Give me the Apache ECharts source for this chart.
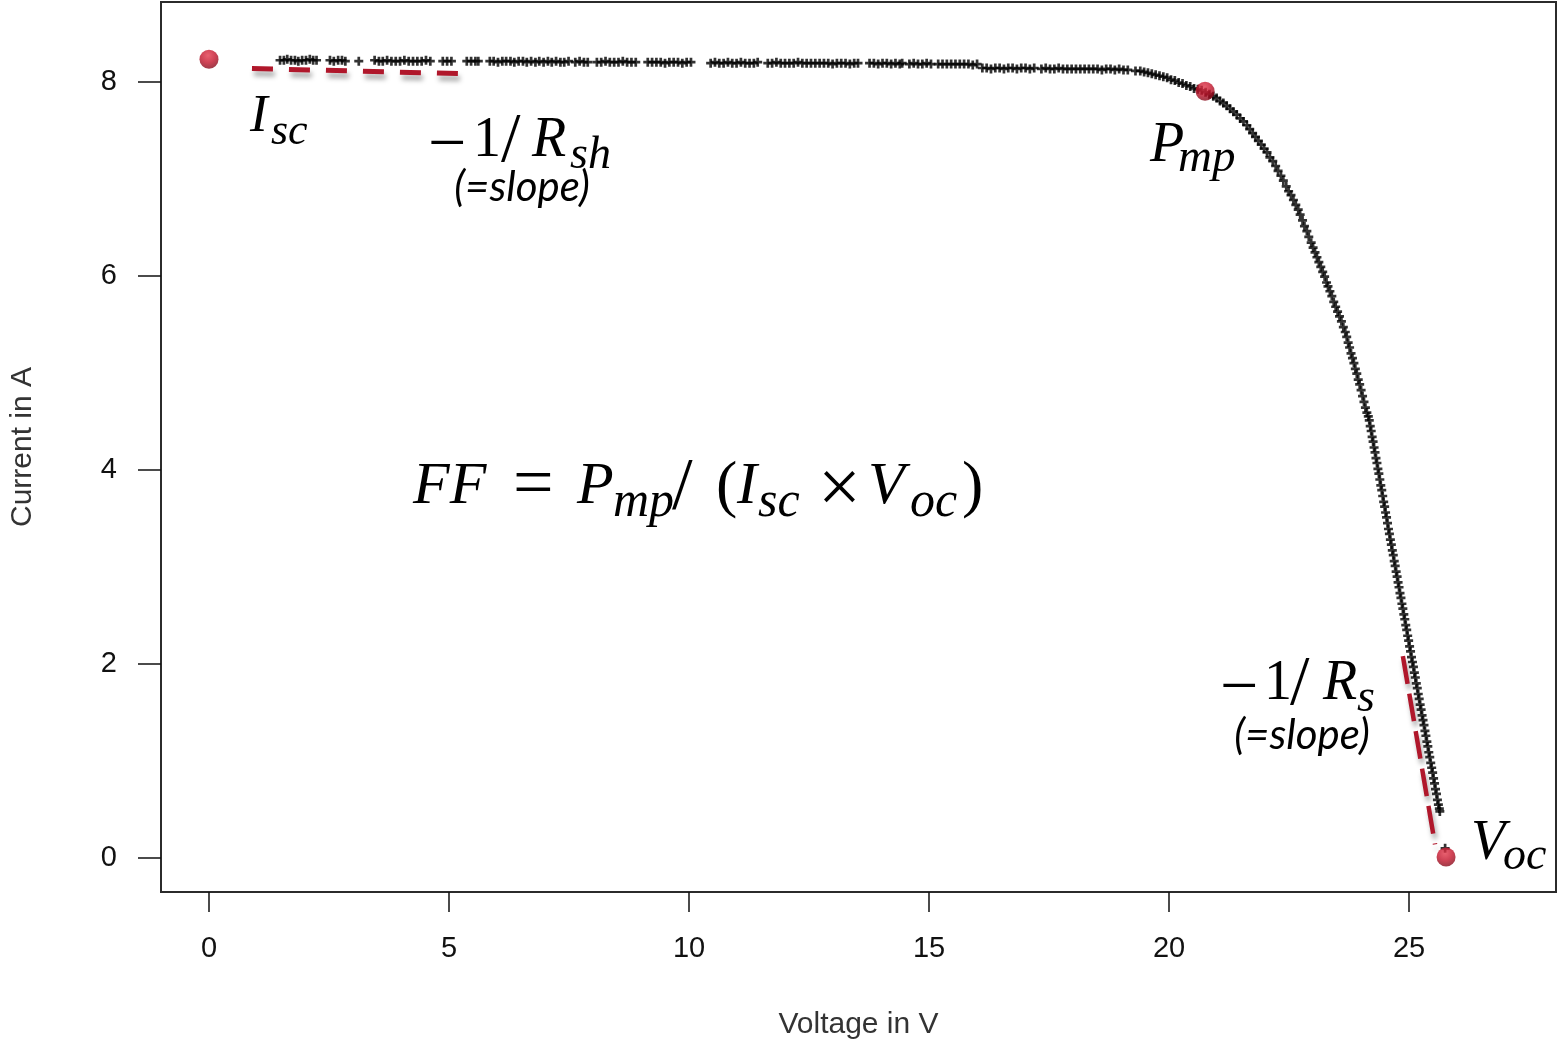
<!DOCTYPE html>
<html lang="en">
<head>
    <meta charset="UTF-8">
    <title>I-V curve</title>
    <script src="https://cdn.jsdelivr.net/npm/echarts@6/dist/echarts.min.js"></script>
    <style>
        html, body { margin: 0; padding: 0; background: #fff; overflow: hidden; }
        #ivChart { width: 1559px; height: 1041px; }
    </style>
</head>
<body>
<div id="ivChart"></div>
<script type="text/javascript">
    // measured points, flat part of the curve [voltage, current]
    var plateau = [
        [1.48,8.22],[1.56,8.22],[1.63,8.23],[1.71,8.22],[1.79,8.22],[1.86,8.21],[1.94,8.22],[2.02,8.22],[2.10,8.23],[2.17,8.22],[2.24,8.22],
        [2.52,8.22],[2.60,8.21],[2.69,8.22],[2.77,8.22],[2.84,8.21],
        [3.12,8.21],
        [3.45,8.22],[3.54,8.21],[3.62,8.21],[3.71,8.22],[3.80,8.21],[3.89,8.21],[3.98,8.21],[4.07,8.22],[4.16,8.21],[4.25,8.21],[4.34,8.21],[4.43,8.21],[4.52,8.22],[4.61,8.21],
        [4.87,8.21],[4.96,8.21],[5.05,8.21],
        [5.37,8.21],[5.46,8.21],[5.55,8.21],[5.61,8.21],
        [5.85,8.21],[5.93,8.21],[6.02,8.20],[6.11,8.21],[6.19,8.21],[6.28,8.21],[6.36,8.20],[6.45,8.21],[6.54,8.21],[6.62,8.20],[6.71,8.21],[6.80,8.20],[6.88,8.21],[6.97,8.20],[7.06,8.21],[7.14,8.20],[7.23,8.21],[7.32,8.20],[7.40,8.20],[7.49,8.21],
        [7.63,8.20],[7.72,8.21],[7.81,8.20],[7.89,8.20],
        [8.08,8.20],[8.17,8.20],[8.26,8.21],[8.35,8.20],[8.44,8.20],[8.53,8.20],[8.62,8.21],[8.71,8.20],[8.80,8.20],[8.89,8.20],
        [9.14,8.20],[9.23,8.20],[9.32,8.20],[9.41,8.20],[9.50,8.19],[9.59,8.20],[9.68,8.20],[9.77,8.20],[9.86,8.19],[9.95,8.20],[10.04,8.20],
        [10.45,8.19],[10.54,8.20],[10.63,8.19],[10.72,8.19],[10.81,8.20],[10.90,8.19],[10.99,8.19],[11.08,8.20],[11.17,8.19],[11.26,8.19],[11.35,8.19],[11.43,8.20],
        [11.64,8.19],[11.73,8.19],[11.82,8.20],[11.91,8.19],[12.00,8.19],[12.09,8.19],[12.18,8.19],[12.27,8.20],[12.36,8.19],[12.45,8.19],[12.54,8.19],[12.63,8.19],[12.72,8.19],[12.81,8.19],[12.90,8.19],[12.99,8.18],[13.08,8.19],[13.17,8.19],[13.26,8.19],[13.35,8.18],[13.44,8.19],[13.52,8.19],
        [13.76,8.19],[13.85,8.19],[13.94,8.18],[14.03,8.19],[14.12,8.19],[14.21,8.18],[14.30,8.19],[14.39,8.18],[14.44,8.19],
        [14.59,8.18],[14.68,8.19],[14.77,8.18],[14.86,8.18],[14.95,8.19],[15.04,8.18],
        [15.19,8.18],[15.28,8.18],[15.37,8.18],[15.46,8.18],[15.55,8.18],[15.64,8.18],[15.73,8.18],[15.82,8.18],[15.91,8.17],[16.00,8.18],
        [16.11,8.14],[16.20,8.14],[16.29,8.13],[16.38,8.14],[16.47,8.14],[16.56,8.13],[16.65,8.14],[16.74,8.14],[16.83,8.13],[16.92,8.14],[17.01,8.14],[17.10,8.13],[17.19,8.14],
        [17.34,8.13],[17.43,8.14],[17.52,8.13],[17.61,8.13],[17.70,8.14],[17.79,8.13],[17.88,8.13],[17.97,8.13],[18.06,8.13],[18.15,8.13],[18.24,8.13],[18.33,8.13],[18.42,8.13],[18.51,8.13],[18.60,8.12],[18.69,8.13],[18.78,8.13],[18.87,8.12],[18.96,8.13],[19.05,8.12],[19.14,8.12]
    ];
    // knee and steep part of the curve
    var knee = [
        [19.30,8.11],[19.40,8.11],[19.48,8.10],[19.56,8.09],[19.64,8.08],[19.72,8.07],[19.80,8.06],[19.88,8.05],[19.96,8.04],[20.04,8.02],[20.12,8.01],[20.20,7.99],[20.28,7.98],[20.36,7.96],[20.44,7.95],[20.52,7.93],[20.60,7.92],[20.68,7.91],[20.76,7.89],[20.84,7.87],
        [20.92,7.85],[20.99,7.83],[21.06,7.80],[21.13,7.78],[21.20,7.75],[21.27,7.72],[21.34,7.69],[21.41,7.66],[21.48,7.62],
        [21.55,7.59],[21.62,7.55],[21.68,7.51],[21.74,7.47],[21.80,7.43],[21.86,7.39],[21.92,7.35],[21.98,7.31],[22.04,7.27],[22.10,7.22],
        [22.16,7.18],[22.22,7.13],[22.27,7.08],[22.33,7.03],[22.38,6.98],[22.44,6.92],[22.49,6.87],[22.54,6.83],[22.59,6.78],[22.64,6.73],[22.69,6.68],
        [22.73,6.63],[22.78,6.57],[22.82,6.51],[22.87,6.46],[22.91,6.40],[22.96,6.34],
        [23.00,6.29],[23.04,6.24],[23.08,6.19],[23.12,6.14],[23.16,6.09],[23.20,6.04],[23.24,5.99],[23.28,5.93],[23.31,5.89],
        [23.35,5.84],[23.39,5.79],[23.43,5.73],[23.47,5.68],[23.51,5.63],[23.55,5.58],[23.59,5.53],[23.63,5.47],[23.67,5.42],
        [23.70,5.37],[23.73,5.31],[23.76,5.26],[23.79,5.20],[23.82,5.15],[23.85,5.10],[23.88,5.04],[23.91,4.99],[23.94,4.93],
        [23.97,4.88],[24.00,4.82],[24.03,4.76],[24.06,4.70],[24.09,4.64],[24.12,4.59],[24.15,4.55]
    ];
    var steep = [
        [24.17,4.51],[24.19,4.45],[24.21,4.40],[24.23,4.34],[24.25,4.29],[24.27,4.23],[24.29,4.18],[24.31,4.12],[24.33,4.07],[24.35,4.01],
        [24.37,3.96],[24.39,3.90],[24.41,3.84],[24.43,3.79],[24.45,3.73],[24.47,3.67],[24.49,3.62],[24.51,3.56],[24.53,3.51],[24.55,3.45],
        [24.57,3.39],[24.59,3.34],[24.61,3.28],[24.63,3.23],[24.65,3.17],[24.67,3.12],[24.69,3.06],[24.71,3.01],[24.73,2.95],[24.75,2.90],
        [24.77,2.84],[24.79,2.79],[24.81,2.73],[24.83,2.68],[24.85,2.62],[24.87,2.57],[24.89,2.51],[24.91,2.46],[24.93,2.40],[24.95,2.35],
        [24.97,2.29],[24.99,2.24],[25.01,2.18],[25.03,2.13],[25.05,2.07],[25.07,2.02],[25.09,1.97],[25.11,1.91],[25.13,1.86],[25.15,1.80],
        [25.17,1.75],[25.19,1.69],[25.21,1.64],[25.23,1.58],[25.25,1.53],[25.27,1.47],[25.29,1.42],[25.31,1.37],[25.33,1.31],[25.35,1.26],
        [25.37,1.20],[25.39,1.15],[25.41,1.09],[25.43,1.04],[25.45,0.98],[25.47,0.93],[25.49,0.88],[25.51,0.82],[25.53,0.77],[25.55,0.71],
        [25.57,0.66],[25.59,0.60],[25.61,0.55],[25.63,0.51],[25.64,0.48],[25.75,0.10]
    ];
    // Isc, Pmp, Voc
    var keyV = [0, 20.75, 25.77];
    var keyI = [8.23, 7.90, 0.01];
    // slope lines
    var rshLine = [[0.895, 8.134], [5.25, 8.082]];
    var rsLine = [[24.87, 2.08], [25.54, 0.14]];
    var xTicks = [0, 5, 10, 15, 20, 25];
    var yTicks = [0, 2, 4, 6, 8];

    var SERIF = '"Liberation Serif", "Times New Roman", serif';
    var SANS = '"Liberation Sans", Arial, sans-serif';

    // one piece of formula text, placed by its baseline
    function part(text, x, base, size, italic) {
        return {
            type: 'text', z: 50, silent: true,
            style: {
                text: text, x: x, y: base - 0.34 * size,
                font: (italic ? 'italic ' : '') + size + 'px ' + SERIF,
                fill: '#000', textAlign: 'left', textVerticalAlign: 'middle', align: 'left', verticalAlign: 'middle'
            }
        };
    }
    function note(text, cx, base) {
        return {
            type: 'text', z: 50, silent: true,
            style: {
                text: text, x: cx, y: base - 0.39 * 42,
                font: 'italic 42px Lato, "Open Sans", sans-serif',
                fill: '#000', textAlign: 'center', textVerticalAlign: 'middle', align: 'center', verticalAlign: 'middle'
            }
        };
    }

    var labels = [
        // I_sc
        part('I', 250, 135, 53, true), part('sc', 271, 147, 44, true),
        // -1/R_sh
        part('\u2212', 428, 170, 68, false), part('1', 473, 160, 56, false), part('/', 501, 166, 70, false),
        part('R', 532, 160, 56, true), part('sh', 570, 172, 46, true),
        note('(=slope)', 522, 204),
        // P_mp
        part('P', 1150, 165, 56, true), part('mp', 1178, 175, 47, true),
        // -1/R_s
        part('\u2212', 1220, 713, 68, false), part('1', 1264, 703, 56, false), part('/', 1290, 709, 70, false),
        part('R', 1323, 703, 56, true), part('s', 1357, 715, 46, true),
        note('(=slope)', 1302, 752),
        // V_oc
        part('V', 1471, 863, 56, true), part('oc', 1503, 873, 46, true),
        // FF formula
        part('FF', 413, 508, 60, true), part('=', 513, 512, 72, false),
        part('P', 577, 508, 60, true), part('mp', 613, 520, 50, true),
        part('/', 672, 515, 74, false), part('(', 716, 510, 64, false),
        part('I', 737, 508, 60, true), part('sc', 758, 520, 50, true),
        part('\u00d7', 818, 518, 76, false),
        part('V', 868, 508, 60, true), part('oc', 910, 520, 50, true),
        part(')', 962, 510, 64, false)
    ];

    var plusPath = 'path://M3.5,0h3v3.5h3.5v3h-3.5v3.5h-3v-3.5h-3.5v-3h3.5z';
    var redDot = {
        type: 'radial', x: 0.45, y: 0.3, r: 0.75,
        colorStops: [
            { offset: 0, color: '#e3394c' },
            { offset: 0.5, color: '#c3142b' },
            { offset: 1, color: '#7d0818' }
        ]
    };
    var dashShadow = {
        shadowColor: 'rgba(0,0,0,0.35)', shadowBlur: 5, shadowOffsetX: 2, shadowOffsetY: 5
    };

    var chart = echarts.init(document.getElementById('ivChart'));
    var option = {
        animation: false,
        backgroundColor: '#ffffff',
        grid: {
            left: 161, top: 2, right: 3, bottom: 149,
            outerBoundsMode: 'none', containLabel: false,
            show: true, borderColor: '#2b2b2b', borderWidth: 2
        },
        xAxis: {
            type: 'value', min: -1.0, max: 28.06,
            name: 'Voltage in V', nameLocation: 'middle', nameGap: 118,
            nameTextStyle: { fontFamily: SANS, fontSize: 30, color: '#333' },
            axisLine: { show: true, onZero: false, lineStyle: { color: '#2b2b2b', width: 2 } },
            axisTick: { show: true, inside: false, length: 20, customValues: xTicks, lineStyle: { color: '#111', width: 1.5 } },
            axisLabel: { customValues: xTicks, margin: 42, fontFamily: SANS, fontSize: 29, color: '#111' },
            splitLine: { show: false }
        },
        yAxis: {
            type: 'value', min: -0.35, max: 8.82,
            name: 'Current in A', nameLocation: 'middle', nameGap: 123,
            nameTextStyle: { fontFamily: SANS, fontSize: 30, color: '#333' },
            axisLine: { show: true, onZero: false, lineStyle: { color: '#2b2b2b', width: 2 } },
            axisTick: { show: true, inside: false, length: 23, customValues: yTicks, lineStyle: { color: '#111', width: 1.5 } },
            axisLabel: { customValues: yTicks, margin: 44, fontFamily: SANS, fontSize: 29, color: '#111' },
            splitLine: { show: false }
        },
        series: [
            {
                name: 'measured', type: 'scatter', z: 2,
                data: plateau.concat(knee, steep),
                symbol: plusPath, symbolSize: 9,
                itemStyle: { color: '#000' }
            },
            {
                name: 'Rsh slope', type: 'line', z: 3,
                data: rshLine, symbol: 'none',
                lineStyle: Object.assign({ color: '#b0172b', width: 5, type: [21, 16], cap: 'butt' }, dashShadow)
            },
            {
                name: 'Rs slope', type: 'line', z: 3,
                data: rsLine, symbol: 'none',
                lineStyle: Object.assign({ color: '#b0172b', width: 4.5, type: [28, 10], cap: 'butt' }, dashShadow)
            },
            {
                name: 'key points', type: 'scatter', z: 4,
                data: keyV.map(function (v, i) { return [v, keyI[i]]; }),
                symbol: 'circle', symbolSize: 19,
                itemStyle: { color: redDot }
            }
        ],
        graphic: labels
    };
    chart.setOption(option);
</script>
</body>
</html>
